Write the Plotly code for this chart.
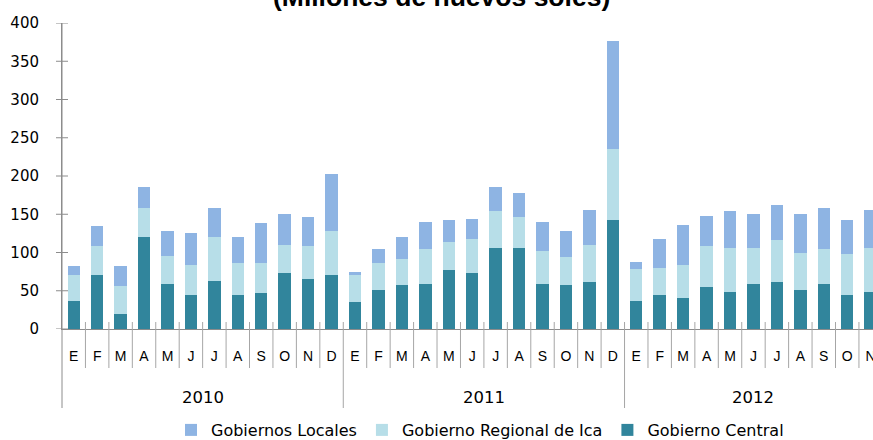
import plotly.graph_objects as go

# Monthly values, Jan 2010 - Nov 2012 (millones de nuevos soles)
meses = ["E", "F", "M", "A", "M", "J", "J", "A", "S", "O", "N", "D"] * 2 + \
        ["E", "F", "M", "A", "M", "J", "J", "A", "S", "O", "N"]
anios = [2010] * 12 + [2011] * 12 + [2012] * 11

gobierno_central = [37, 71, 19, 120, 59, 45, 63, 45, 47, 73, 65, 71,
                    35, 51, 57, 59, 77, 73, 106, 106, 59, 57, 61, 142,
                    37, 45, 41, 55, 49, 59, 61, 51, 59, 45, 49]
gobierno_regional = [33, 37, 37, 38, 37, 39, 57, 41, 39, 37, 43, 57,
                     35, 35, 35, 45, 37, 45, 48, 40, 43, 37, 49, 93,
                     42, 35, 43, 53, 57, 47, 55, 49, 45, 53, 57]
gobiernos_locales = [12, 26, 26, 28, 32, 42, 38, 34, 52, 40, 38, 75,
                     4, 18, 28, 36, 28, 26, 32, 32, 38, 34, 46, 142,
                     9, 38, 52, 40, 48, 44, 46, 50, 54, 45, 50]

y_ticks = [0, 50, 100, 150, 200, 250, 300, 350, 400]

x = list(range(len(meses)))
NUM_FONT = "DejaVu Sans, sans-serif"
LBL_FONT = "Liberation Sans, Arial, sans-serif"
AXIS = "#8c8c8c"
SEP = "#a6a6a6"

fig = go.Figure()
fig.add_trace(go.Bar(x=x, y=gobierno_central, name="Gobierno Central",
                     marker=dict(color="#31859C", line=dict(width=0)), width=0.53))
fig.add_trace(go.Bar(x=x, y=gobierno_regional, name="Gobierno Regional de Ica",
                     marker=dict(color="#B7DEE8", line=dict(width=0)), width=0.53))
fig.add_trace(go.Bar(x=x, y=gobiernos_locales, name="Gobiernos Locales",
                     marker=dict(color="#8EB4E3", line=dict(width=0)), width=0.53))

# plot area pixel geometry: left 62, top 23, bottom 329
H = 306.0


def py(pix):
    return (329 - pix) / H


shapes = []
# month separators and year dividers
for i in range(len(meses) - 1):
    b = i + 0.5
    nuevo_anio = anios[i + 1] != anios[i]
    shapes.append(dict(type="line", xref="x", yref="paper", x0=b, x1=b,
                       y0=py(322), y1=py(408 if nuevo_anio else 368),
                       line=dict(color=SEP, width=1)))
# y axis line extended down through the labels
shapes.append(dict(type="line", xref="paper", yref="paper", x0=0, x1=0,
                   y0=py(408), y1=1, line=dict(color=AXIS, width=1)))
# crossing y ticks
for t in y_ticks:
    shapes.append(dict(type="line", xref="paper", yref="y", x0=-6 / 811, x1=6 / 811,
                       y0=t, y1=t, line=dict(color=AXIS, width=1)))

annotations = []
for a in sorted(set(anios)):
    idx = [i for i, v in enumerate(anios) if v == a]
    annotations.append(dict(x=sum(idx) / len(idx), y=py(397), xref="x", yref="paper",
                            text=str(a), showarrow=False, yanchor="middle",
                            font=dict(family=NUM_FONT, size=16.5, color="#000")))
annotations.append(dict(x=(441 - 62) / 811, y=py(14), xref="paper", yref="paper",
                        text="<b>(Millones de nuevos soles)</b>", showarrow=False,
                        yanchor="bottom", font=dict(family="Liberation Sans, Arial", size=26.5,
                                                    color="#000")))

fig.update_layout(
    template="none",
    width=873, height=440,
    margin=dict(l=62, r=0, t=23, b=111, autoexpand=False),
    paper_bgcolor="white", plot_bgcolor="white",
    barmode="stack", bargap=0.47,
    showlegend=True,
    legend=dict(orientation="h", x=(480 - 62) / 811, xanchor="center",
                yref="container", y=(440 - 430) / 440, yanchor="middle",
                traceorder="reversed",
                font=dict(family=NUM_FONT, size=16, color="#000"),
                itemwidth=30, tracegroupgap=0),
    xaxis=dict(range=[-0.5, 34.1], tickmode="array", tickvals=x, ticktext=meses,
               ticks="", showgrid=False, zeroline=False, showline=True,
               linecolor=AXIS, linewidth=1, ticklabelstandoff=14, automargin=False,
               ticklabeloverflow="allow",
               tickfont=dict(family=LBL_FONT, size=14, color="#000")),
    yaxis=dict(range=[0, 400], tickvals=y_ticks, ticks="", showgrid=False,
               zeroline=False, showline=True, linecolor=AXIS, linewidth=1,
               ticklabelstandoff=19, automargin=False,
               tickfont=dict(family=NUM_FONT, size=15, color="#000")),
    shapes=shapes,
    annotations=annotations,
)

fig.write_html("out.html", config={"displayModeBar": False},
               post_script="document.body.style.margin='0';")
